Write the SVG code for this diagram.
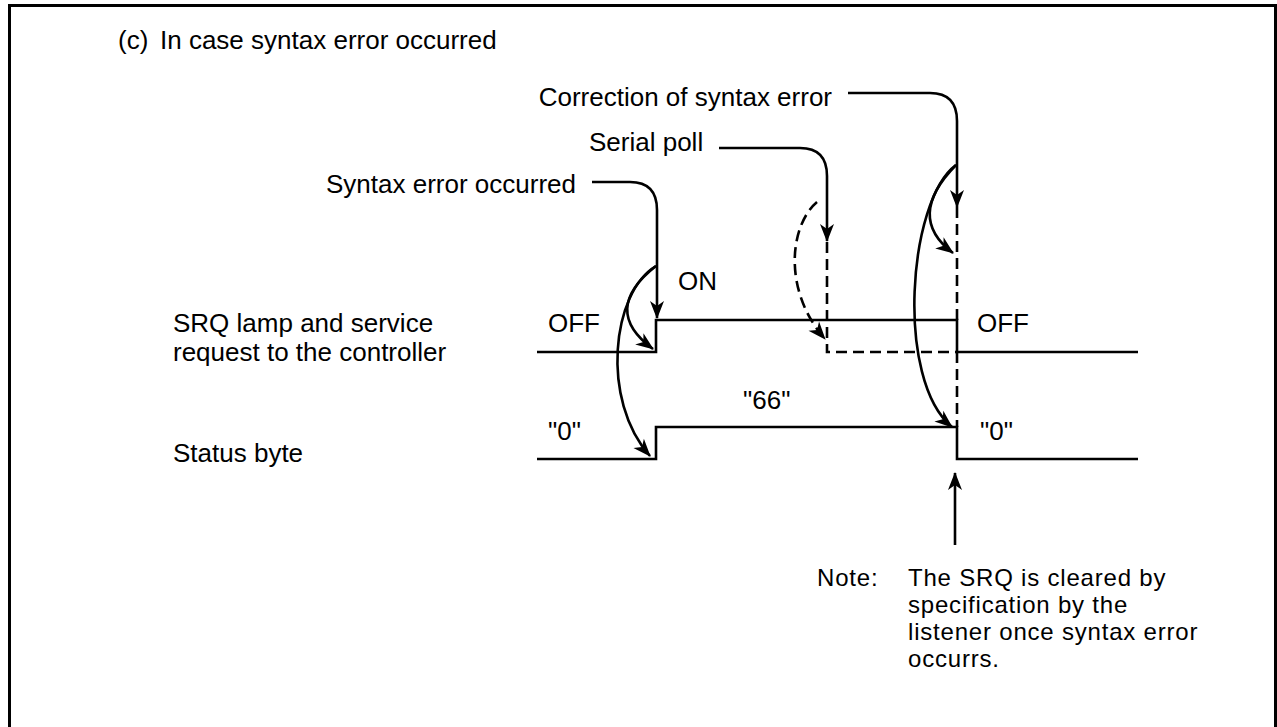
<svg xmlns="http://www.w3.org/2000/svg" width="1277" height="727" viewBox="0 0 1277 727">
<style>
text{font-family:"Liberation Sans",Arial,sans-serif;font-size:26px;fill:#000}
.nt{font-size:24px;letter-spacing:0.8px}
.ln{fill:none;stroke:#000;stroke-width:2.6}
.ds{fill:none;stroke:#000;stroke-width:2.6;stroke-dasharray:11 6}
.ar{marker-end:url(#ah)}
</style>
<defs>
<marker id="ah" markerUnits="userSpaceOnUse" markerWidth="24" markerHeight="16" refX="0" refY="0" viewBox="-20 -8 24 16" orient="auto" overflow="visible">
<path d="M1,0 L-17,-7 L-12,0 L-17,7 Z" fill="#000"/>
</marker>
</defs>
<rect x="9.5" y="5.5" width="1266" height="800" fill="#fff" stroke="#000" stroke-width="3"/>
<g id="title"><text x="118" y="49"><tspan>(c)</tspan><tspan x="160">In case syntax error occurred</tspan></text></g>
<g id="label-srq"><text x="173" y="332">SRQ lamp and service</text><text x="173" y="361">request to the controller</text></g>
<g id="label-status"><text x="173" y="462">Status byte</text></g>
<g id="label-syntax"><text x="576" y="193" text-anchor="end">Syntax error occurred</text></g>
<g id="label-serial"><text x="589" y="151">Serial poll</text></g>
<g id="label-correction"><text x="832" y="106" text-anchor="end">Correction of syntax error</text></g>
<g id="state-labels">
<text x="548" y="332">OFF</text>
<text x="678" y="290">ON</text>
<text x="977" y="332">OFF</text>
<text x="548" y="440">"0"</text>
<text x="743" y="409">"66"</text>
<text x="980" y="440">"0"</text>
</g>
<g id="note">
<text class="nt" x="817" y="586">Note:</text>
<text class="nt" x="908" y="586">The SRQ is cleared by</text>
<text class="nt" x="908" y="613">specification by the</text>
<text class="nt" x="908" y="640">listener once syntax error</text>
<text class="nt" x="908" y="667">occurrs.</text>
</g>
<g id="connectors">
<path class="ln" d="M537,352 H656 V320 H957 V352 H1138"/>
<path class="ln" d="M537,459 H656 V427 H957 V459 H1138"/>
<path class="ds" d="M827,242 V352 H957"/>
<path class="ds" d="M957,207 V320"/>
<path class="ds" d="M957,352 V427"/>
<path class="ln ar" d="M592,182 H630 Q657,182 657,210 V318"/>
<path class="ln ar" d="M719,148 H800 Q827,148 827,176 V241"/>
<path class="ln ar" d="M848,93 H930 Q957,93 957,121 V207"/>
<path class="ln ar" d="M656,266 Q600,310 653,349"/>
<path class="ln ar" d="M656,266 C612,292 600,400 650,456"/>
<path class="ln ar" d="M956,165 Q905,217 953,253"/>
<path class="ln ar" d="M956,165 C908,200 895,380 952,427"/>
<path class="ds ar" d="M817,202 C790,225 782,290 825,339"/>
<path class="ln ar" d="M955,545 V473"/>
</g>
</svg>
